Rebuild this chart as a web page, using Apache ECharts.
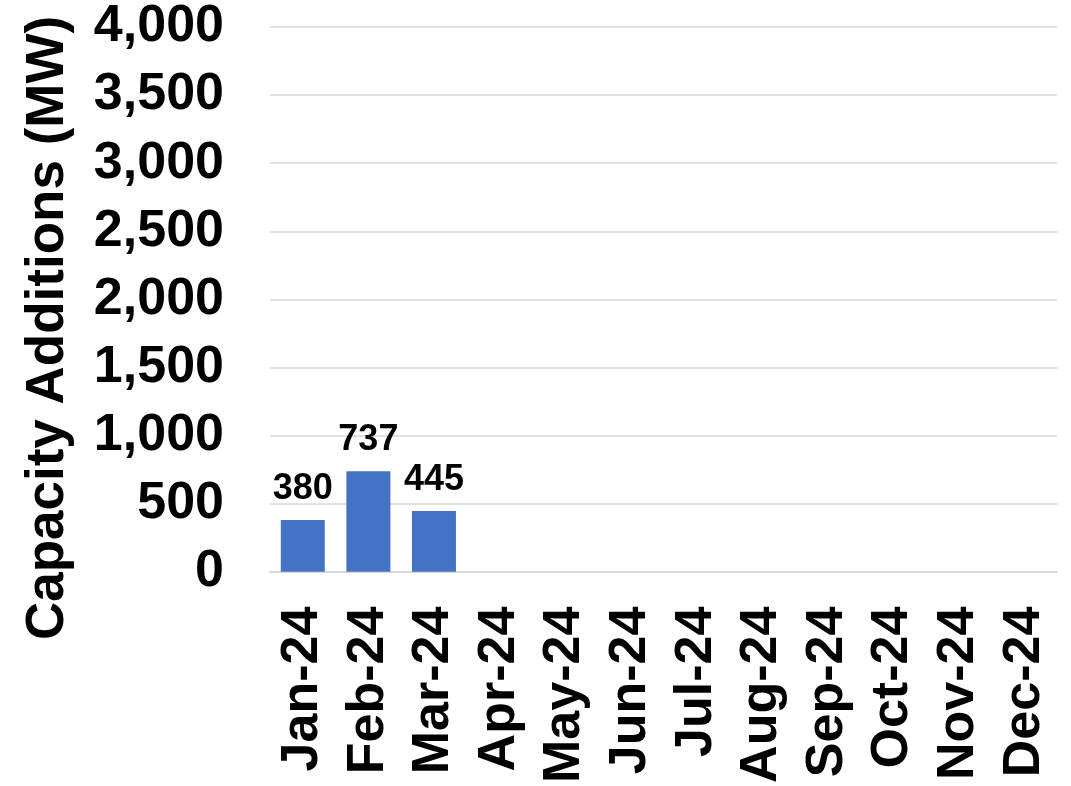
<!DOCTYPE html>
<html>
<head>
<meta charset="utf-8">
<script src="https://cdn.jsdelivr.net/npm/echarts@6/dist/echarts.min.js"></script>
<style>
    html, body { margin: 0; padding: 0; background: #fff; }
    #chart { width: 1071px; height: 786px; }
</style>
</head>
<body>
<div id="chart"></div>
<script>
// Monthly capacity additions, 2024
const months = ['Jan-24', 'Feb-24', 'Mar-24', 'Apr-24', 'May-24', 'Jun-24',
                'Jul-24', 'Aug-24', 'Sep-24', 'Oct-24', 'Nov-24', 'Dec-24'];
const additions = [380, 737, 445, null, null, null, null, null, null, null, null, null];
const yTicks = { min: 0, max: 4000, interval: 500 };
const yTitle = 'Capacity Additions (MW)';

const font = '"Liberation Sans", Arial, sans-serif';
const chart = echarts.init(document.getElementById('chart'));

chart.setOption({
    animation: false,
    textStyle: { fontFamily: font },
    grid: { left: 270, right: 14, top: 27, bottom: 213, containLabel: false },
    xAxis: {
        type: 'category',
        data: months,
        axisLine: { lineStyle: { color: '#d9d9d9', width: 2 } },
        axisTick: { show: false },
        axisLabel: {
            interval: 0,
            rotate: 90,
            margin: 35,
            color: '#000',
            fontSize: 52,
            fontWeight: 'bold',
            fontFamily: font
        }
    },
    yAxis: {
        type: 'value',
        min: yTicks.min,
        max: yTicks.max,
        interval: yTicks.interval,
        axisLine: { show: false },
        axisTick: { show: false },
        splitLine: { lineStyle: { color: '#d9d9d9', width: 1.5 } },
        axisLabel: {
            margin: 46,
            color: '#000',
            fontSize: 52,
            fontWeight: 'bold',
            fontFamily: font,
            formatter: v => v.toLocaleString('en-US')
        }
    },
    graphic: [{
        type: 'text',
        x: 48,
        y: 328,
        rotation: Math.PI / 2,
        style: {
            text: yTitle,
            fill: '#000',
            font: 'bold 53px ' + font,
            textAlign: 'center',
            textVerticalAlign: 'middle'
        }
    }],
    series: [{
        type: 'bar',
        data: additions,
        barWidth: 44,
        itemStyle: { color: '#4472c4' },
        label: {
            show: true,
            position: 'top',
            distance: 13,
            color: '#000',
            fontSize: 36,
            fontWeight: 'bold',
            fontFamily: font
        }
    }]
});
</script>
</body>
</html>
